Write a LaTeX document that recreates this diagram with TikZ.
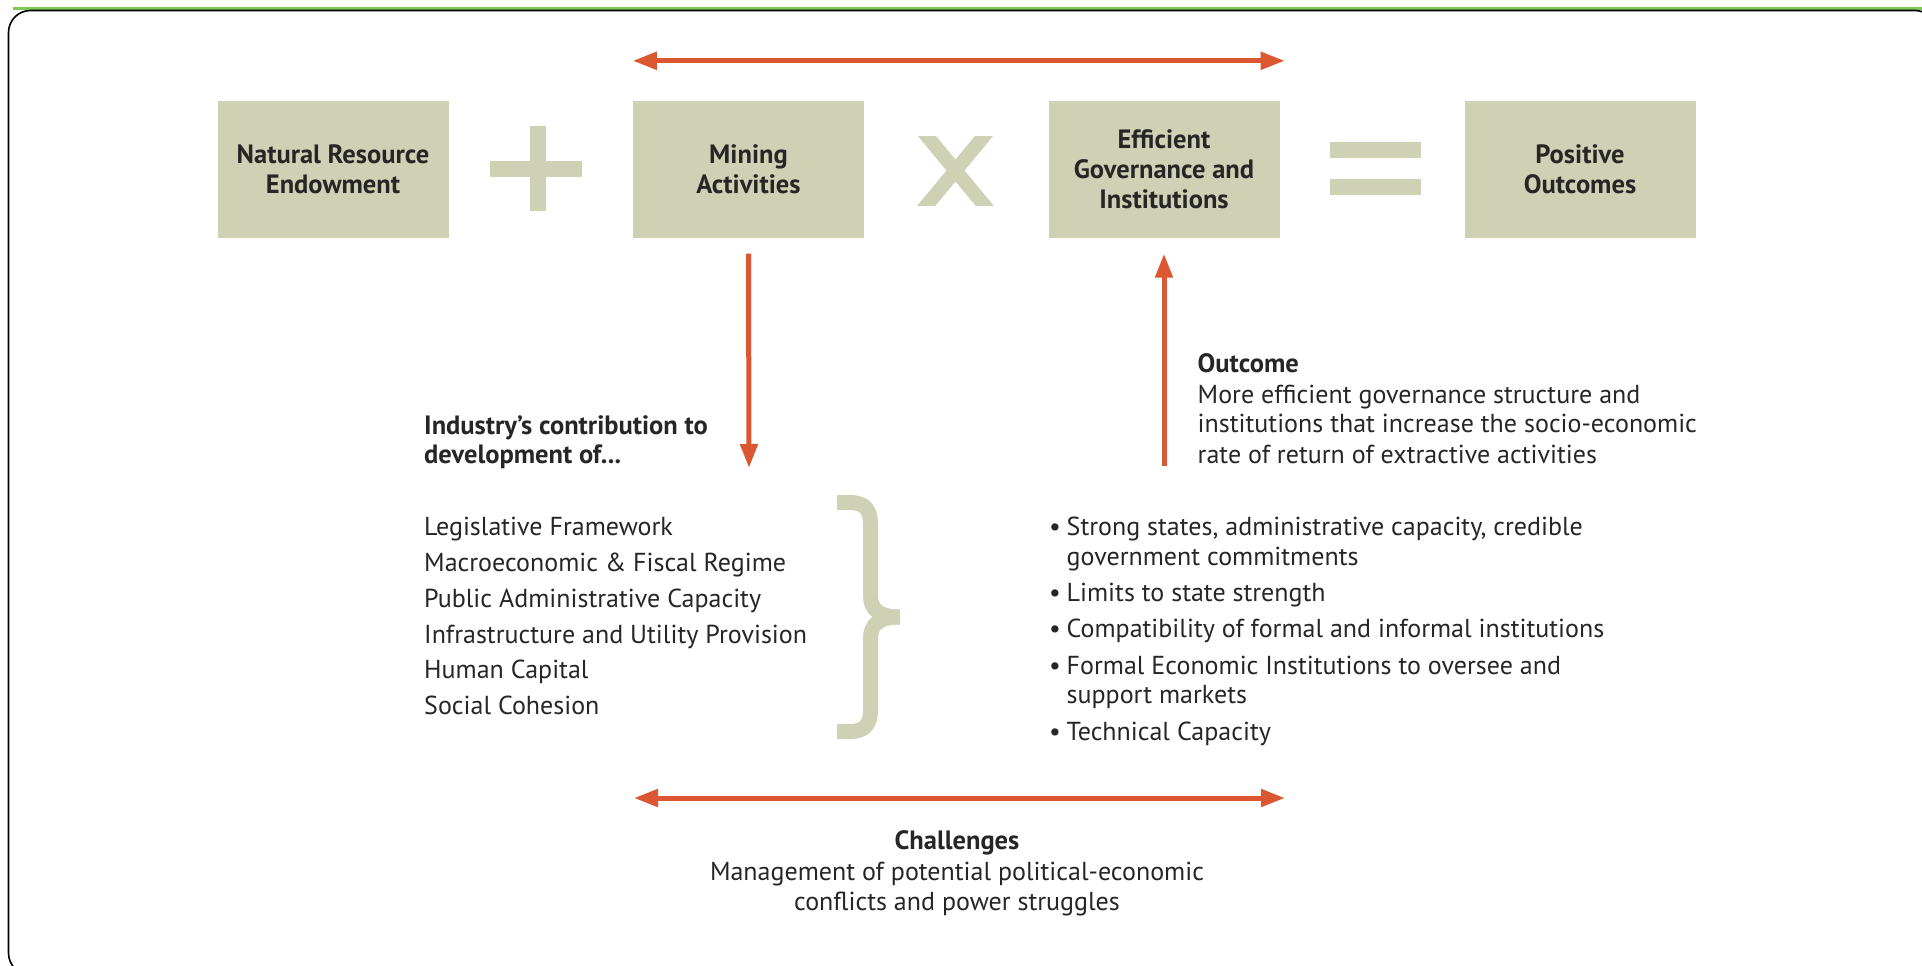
\documentclass[tikz,border=0pt]{standalone}
\usepackage{fontspec}
\setmainfont{PT Sans}
\usetikzlibrary{arrows.meta}
\definecolor{boxc}{RGB}{207,209,181}
\definecolor{arrowc}{RGB}{218,87,50}
\definecolor{textc}{RGB}{38,38,38}
\definecolor{greenc}{RGB}{125,200,85}
\begin{document}
\begin{tikzpicture}[x=1pt,y=-1pt,
  box/.style={fill=boxc, minimum width=231pt, minimum height=137pt, inner sep=0pt, align=center,
    font=\fontsize{26.5}{30}\selectfont\bfseries, text=textc},
  txt/.style={anchor=base west, inner sep=0pt, font=\fontsize{26}{30}\selectfont, text=textc},
  btxt/.style={txt, font=\fontsize{26.5}{30}\selectfont\bfseries},
  ctxt/.style={txt, anchor=base},
  arr/.style={draw=arrowc, line width=5pt, -{Triangle[length=24pt,width=17pt]}},
  darr/.style={draw=arrowc, line width=5pt, {Triangle[length=24pt,width=17pt]}-{Triangle[length=24pt,width=17pt]}},
  op/.style={fill=boxc},
  bracestroke/.style={draw=boxc, line width=15pt, line cap=butt}
]
\useasboundingbox (0,0) rectangle (1922,966);
% frame
\draw[greenc, line width=3pt] (13,8.5) -- (1922,8.5);
\draw[black, line width=1.6pt, rounded corners=22pt] (8.5,10.5) rectangle (1937,975);

% boxes
\node[box] (b1) at (333,169) {Natural Resource\\Endowment};
\node[box] (b2) at (748.5,169) {Mining\\Activities};
\node[box] (b3) at (1164,169) {Efficient\\Governance and\\Institutions};
\node[box] (b4) at (1580,169) {Positive\\Outcomes};

% operators
\fill[op] (529.5,126) rectangle (545.5,211);
\fill[op] (490,160.5) rectangle (582,176.5);
\begin{scope}
  \clip (900,136) rectangle (1010,205);
  \draw[boxc, line width=14pt] (922,130) -- (989,211);
  \draw[boxc, line width=14pt] (989,130) -- (922,211);
\end{scope}
\fill[op] (1330,142) rectangle (1421,158);
\fill[op] (1330,179) rectangle (1421,195);

% arrows
\coordinate (tl) at ([yshift=39.5pt]b2.north west);
\coordinate (tr) at ([yshift=39.5pt,xshift=5pt]b3.north east);
\draw[darr] (tl) -- (tr);
\coordinate (dtop) at ([yshift=-16pt]b2.south);
\coordinate (dbot) at (749,468);
\draw[arr] (dtop) -- (dbot);
\coordinate (ubot) at (1164,466);
\coordinate (utop) at ([yshift=-16pt]b3.south);
\draw[arr] (ubot) -- (utop);
\coordinate (bl) at (634,798);
\coordinate (br) at (1285,798);
\draw[darr] (bl) -- (br);

% left text
\node[btxt] (h1) at (424,434) {Industry’s contribution to};
\node[btxt] (h2) at (424,463) {development of...};
\node[txt] (l1) at (424,535) {Legislative Framework};
\node[txt] (l2) at (424,571) {Macroeconomic \& Fiscal Regime};
\node[txt] (l3) at (424,607) {Public Administrative Capacity};
\node[txt] (l4) at (424,643) {Infrastructure and Utility Provision};
\node[txt] (l5) at (424,678) {Human Capital};
\node[txt] (l6) at (424,714) {Social Cohesion};

% brace
\draw[bracestroke] (837,502.5) -- (850,502.5) .. controls (864,502.5) and (870.5,509) .. (870.5,524) -- (870.5,596) .. controls (870.5,610) and (880,617) .. (900,617);
\draw[bracestroke] (900,617) .. controls (880,617) and (870.5,624) .. (870.5,638) -- (870.5,710) .. controls (870.5,725) and (864,731.5) .. (850,731.5) -- (837,731.5);

% outcome text
\node[btxt] (o0) at (1197.5,372) {Outcome};
\node[txt] (o1) at (1197.5,403) {More efficient governance structure and};
\node[txt] (o2) at (1197.5,432) {institutions that increase the socio-economic};
\node[txt] (o3) at (1197.5,463) {rate of return of extractive activities};

% bullets
\node[txt] (p1) at (1049,535) {•};
\node[txt] (t1) at (1066.5,535) {Strong states, administrative capacity, credible};
\node[txt] (t1b) at (1066.5,565) {government commitments};
\node[txt] (p2) at (1049,601) {•};
\node[txt] (t2) at (1066.5,601) {Limits to state strength};
\node[txt] (p3) at (1049,637) {•};
\node[txt] (t3) at (1066.5,637) {Compatibility of formal and informal institutions};
\node[txt] (p4) at (1049,674) {•};
\node[txt] (t4) at (1066.5,674) {Formal Economic Institutions to oversee and};
\node[txt] (t4b) at (1066.5,703) {support markets};
\node[txt] (p5) at (1049,740) {•};
\node[txt] (t5) at (1066.5,740) {Technical Capacity};

% challenges
\node[ctxt, font=\fontsize{26.5}{30}\selectfont\bfseries] (c0) at (957,849) {Challenges};
\node[ctxt] (c1) at (957,880) {Management of potential political-economic};
\node[ctxt] (c2) at (957,910) {conflicts and power struggles};
\end{tikzpicture}
\end{document}
